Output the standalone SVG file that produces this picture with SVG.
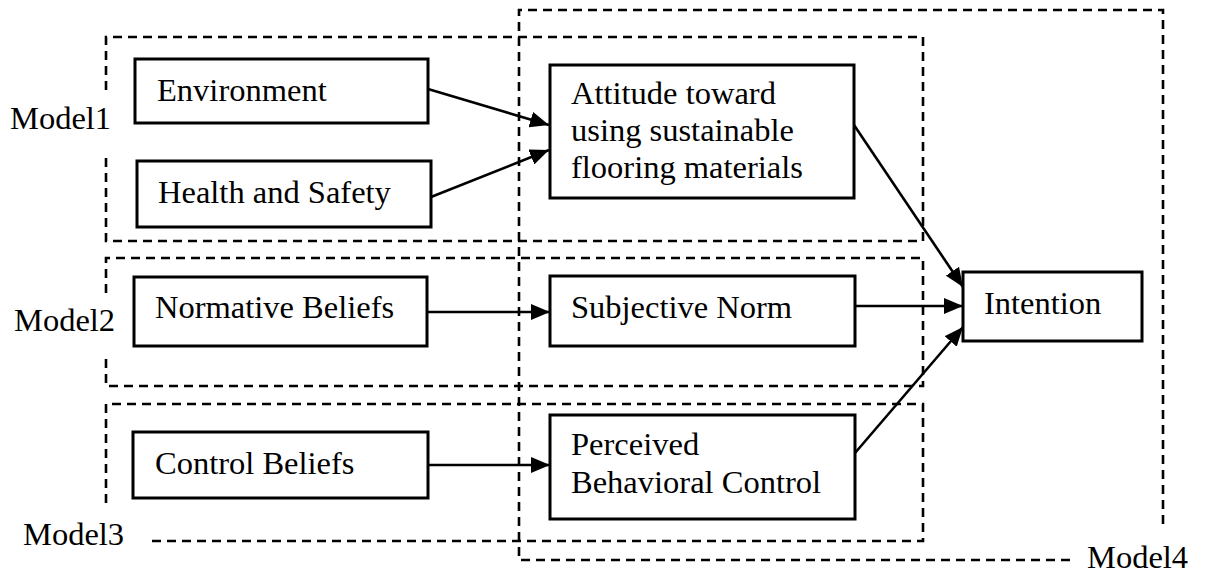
<svg xmlns="http://www.w3.org/2000/svg" width="1209" height="576" viewBox="0 0 1209 576">
<style>
.bg{fill:#fff}
.node{fill:#fff;stroke:#000;stroke-width:3}
.grp{fill:none;stroke:#000;stroke-width:2.6;stroke-dasharray:9 6}
.t{font-family:"Liberation Serif","Times New Roman",serif;font-size:32.5px;fill:#000}
.c{fill:none;stroke:#000;stroke-width:2.6}
</style>
<defs>
<marker id="ah" markerUnits="userSpaceOnUse" markerWidth="20" markerHeight="16" refX="19" refY="8" orient="auto">
<path d="M0,0 L19,8 L0,16 Z" fill="#000"/>
</marker>
</defs>
<rect class="bg" x="0" y="0" width="1209" height="576"/>
<g id="model4">
<path class="grp" d="M1070,560 H519 V10 H1163 V528"/>
<text class="t" x="1087" y="568">Model4</text>
</g>
<g id="model1">
<path class="grp" d="M106,90 V37 H923 V241 H106 V152"/>
<text class="t" x="10" y="129">Model1</text>
</g>
<g id="model2">
<path class="grp" d="M106,293 V258 H923 V386 H106 V353"/>
<text class="t" x="14" y="331">Model2</text>
</g>
<g id="model3">
<path class="grp" d="M106,503 V404 H923 V541 H148"/>
<text class="t" x="23" y="545">Model3</text>
</g>
<g id="environment">
<rect class="node" x="135" y="59" width="293" height="64"/>
<text class="t" x="157" y="101">Environment</text>
</g>
<g id="health">
<rect class="node" x="137" y="161" width="294" height="66"/>
<text class="t" x="158" y="203">Health and Safety</text>
</g>
<g id="attitude">
<rect class="node" x="550" y="65" width="304" height="133"/>
<text class="t" x="571" y="104">Attitude toward</text>
<text class="t" x="571" y="141">using sustainable</text>
<text class="t" x="571" y="178">flooring materials</text>
</g>
<g id="normative">
<rect class="node" x="134" y="277" width="293" height="69"/>
<text class="t" x="155" y="318">Normative Beliefs</text>
</g>
<g id="subjective">
<rect class="node" x="550" y="276" width="305" height="70"/>
<text class="t" x="571" y="318">Subjective Norm</text>
</g>
<g id="control">
<rect class="node" x="133" y="432" width="295" height="66"/>
<text class="t" x="155" y="474">Control Beliefs</text>
</g>
<g id="pbc">
<rect class="node" x="550" y="415" width="305" height="104"/>
<text class="t" x="571" y="455">Perceived</text>
<text class="t" x="571" y="493">Behavioral Control</text>
</g>
<g id="intention">
<rect class="node" x="963" y="272" width="179" height="69"/>
<text class="t" x="984" y="314">Intention</text>
</g>
<g id="connectors">
<line class="c" x1="428" y1="89" x2="549" y2="125" marker-end="url(#ah)"/>
<line class="c" x1="431" y1="197" x2="549" y2="150" marker-end="url(#ah)"/>
<line class="c" x1="427" y1="312" x2="550" y2="312" marker-end="url(#ah)"/>
<line class="c" x1="428" y1="465" x2="550" y2="465" marker-end="url(#ah)"/>
<line class="c" x1="854" y1="125" x2="963" y2="287" marker-end="url(#ah)"/>
<line class="c" x1="855" y1="306" x2="963" y2="306" marker-end="url(#ah)"/>
<line class="c" x1="855" y1="453" x2="963" y2="327" marker-end="url(#ah)"/>
</g>
</svg>
